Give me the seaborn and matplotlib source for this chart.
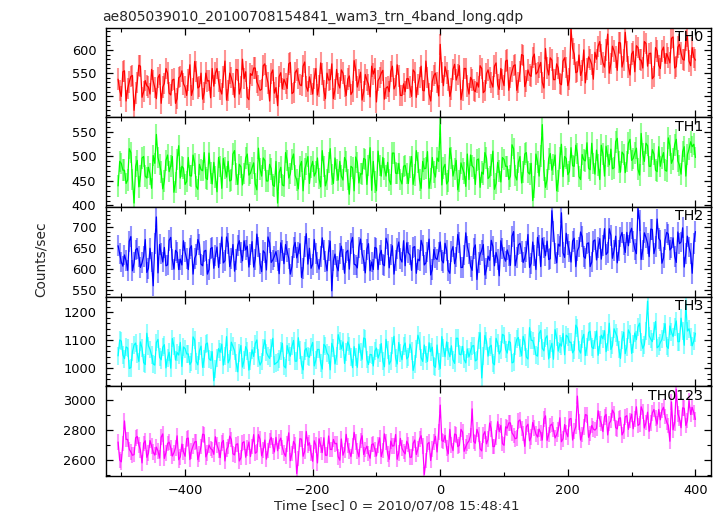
import numpy as np
import matplotlib
matplotlib.use("Agg")
import matplotlib.pyplot as plt
from matplotlib.ticker import MultipleLocator
import seaborn as sns

title = "ae805039010_20100708154841_wam3_trn_4band_long.qdp"
band_names = ["TH0", "TH1", "TH2", "TH3", "TH0123"]
band_colors = ["#ff0000", "#00ff00", "#0000ff", "#00ffff", "#ff00ff"]
# "a" bins start at -505 s, "b" bins sit half way between them; step 5 s each
t_start = -505
t_step = 5
# rough 1-sigma error of each band (counts/sec)
band_err = [23, 22, 25, 32, 52]

th0_a = [
    537, 500, 555, 517, 543, 470, 530, 565, 510, 523,
    505, 533, 495, 547, 520, 560, 507, 535, 485, 540,
    555, 520, 535, 502, 575, 518, 550, 508, 533, 497,
    522, 560, 515, 542, 492, 550, 527, 558, 505, 580,
    553, 493, 545, 561, 523, 515, 570, 529, 549, 507,
    480, 551, 537, 517, 573, 509, 557, 525, 565, 521,
    542, 505, 560, 522, 548, 495, 535, 570, 515, 528,
    557, 522, 537, 504, 577, 520, 552, 510, 535, 499,
    548, 488, 540, 556, 518, 510, 565, 524, 544, 502,
    510, 538, 500, 552, 525, 565, 512, 540, 490, 545,
    530, 612, 523, 550, 500, 558, 535, 566, 513, 560,
    505, 535, 510, 520, 560, 512, 557, 530, 565, 525,
    560, 523, 578, 540, 566, 513, 553, 588, 533, 546,
    583, 548, 563, 530, 603, 546, 578, 536, 561, 525,
    583, 523, 645, 591, 553, 545, 600, 559, 579, 537,
    580, 618, 573, 600, 550, 608, 585, 616, 563, 638,
    563, 591, 553, 605, 578, 618, 565, 593, 543, 598,
    560, 606, 592, 572, 628, 564, 612, 580, 620, 576,
    605, 578,
]
th0_b = [
    513, 553, 490, 531, 545, 507, 567, 498, 534, 520,
    558, 519, 540, 485, 528, 550, 503, 537, 495, 543,
    527, 502, 568, 516, 554, 521, 494, 550, 534, 560,
    550, 532, 505, 576, 513, 540, 498, 557, 520, 538,
    498, 549, 561, 531, 513, 566, 544, 490, 557, 519,
    543, 516, 528, 570, 506, 551, 538, 523, 574, 511,
    525, 539, 503, 572, 512, 550, 536, 495, 558, 518,
    550, 502, 544, 510, 557, 535, 492, 547, 526, 565,
    560, 534, 550, 494, 521, 554, 516, 568, 502, 527,
    538, 520, 557, 498, 540, 513, 576, 505, 532, 550,
    501, 552, 564, 534, 516, 569, 547, 493, 560, 522,
    541, 514, 530, 566, 508, 549, 540, 520, 572, 515,
    536, 576, 513, 554, 568, 530, 590, 521, 557, 543,
    591, 552, 573, 518, 561, 583, 536, 570, 528, 576,
    562, 537, 603, 551, 589, 556, 529, 585, 569, 595,
    608, 590, 563, 634, 571, 598, 556, 615, 578, 596,
    546, 597, 609, 579, 561, 614, 592, 538, 605, 567,
    598, 571, 583, 625, 561, 606, 593, 578, 629, 566,
    584,
]

th1_a = [
    440, 486, 472, 452, 508, 405, 492, 460, 500, 456,
    464, 502, 545, 484, 434, 492, 469, 500, 447, 522,
    480, 443, 498, 460, 486, 433, 473, 508, 453, 466,
    488, 428, 480, 496, 458, 450, 505, 464, 484, 442,
    497, 462, 477, 444, 517, 460, 492, 450, 475, 439,
    405, 478, 440, 492, 465, 505, 452, 480, 430, 485,
    445, 490, 468, 455, 512, 440, 488, 463, 497, 452,
    460, 498, 453, 480, 430, 488, 465, 496, 443, 518,
    490, 430, 482, 498, 460, 452, 507, 466, 486, 444,
    482, 445, 500, 462, 488, 435, 475, 510, 455, 468,
    497, 565, 477, 444, 517, 460, 492, 450, 475, 439,
    453, 481, 443, 495, 468, 508, 455, 483, 433, 488,
    448, 494, 480, 460, 516, 452, 500, 468, 508, 464,
    410, 505, 460, 565, 437, 495, 472, 503, 450, 525,
    500, 463, 518, 480, 506, 453, 493, 528, 473, 486,
    513, 453, 505, 521, 483, 475, 530, 489, 509, 467,
    527, 492, 507, 474, 547, 490, 522, 480, 505, 469,
    480, 508, 470, 522, 495, 535, 482, 510, 460, 515,
    520, 498,
]
th1_b = [
    490, 472, 445, 516, 453, 480, 438, 497, 460, 478,
    435, 486, 498, 468, 450, 503, 481, 427, 494, 456,
    476, 449, 461, 503, 439, 484, 471, 456, 507, 444,
    458, 498, 435, 476, 490, 452, 512, 443, 479, 465,
    505, 466, 487, 432, 475, 497, 450, 484, 442, 490,
    467, 442, 508, 456, 494, 461, 434, 490, 474, 500,
    478, 460, 497, 438, 480, 453, 516, 445, 472, 490,
    452, 490, 423, 477, 499, 446, 464, 494, 482, 431,
    448, 511, 460, 475, 488, 443, 507, 465, 453, 480,
    465, 479, 443, 512, 452, 490, 476, 435, 498, 458,
    490, 442, 484, 450, 497, 475, 432, 487, 466, 505,
    503, 477, 493, 437, 464, 497, 459, 511, 445, 470,
    498, 480, 453, 524, 461, 488, 446, 505, 468, 486,
    438, 489, 501, 471, 453, 506, 484, 430, 497, 459,
    496, 469, 481, 523, 459, 504, 491, 476, 527, 464,
    483, 523, 460, 501, 515, 477, 537, 468, 504, 490,
    535, 496, 517, 462, 505, 527, 480, 514, 472, 520,
    497, 472, 538, 486, 524, 491, 464, 520, 504, 530,
    525,
]

th2_a = [
    656, 617, 634, 597, 678, 615, 650, 604, 631, 592,
    650, 560, 725, 659, 617, 608, 669, 623, 645, 599,
    610, 641, 599, 656, 626, 671, 612, 643, 588, 649,
    602, 653, 637, 615, 677, 606, 659, 624, 668, 620,
    646, 605, 666, 624, 653, 594, 639, 677, 616, 631,
    621, 663, 613, 643, 588, 652, 627, 661, 602, 685,
    650, 612, 638, 600, 675, 618, 645, 548, 636, 596,
    655, 590, 645, 662, 612, 603, 672, 620, 648, 596,
    599, 650, 634, 612, 674, 603, 656, 621, 665, 617,
    608, 639, 597, 654, 624, 669, 610, 641, 586, 647,
    623, 665, 615, 645, 590, 654, 629, 663, 604, 687,
    638, 597, 658, 616, 645, 586, 631, 669, 608, 623,
    668, 629, 646, 609, 690, 627, 662, 616, 643, 604,
    665, 599, 656, 674, 632, 623, 740, 638, 660, 735,
    628, 659, 617, 674, 644, 689, 630, 661, 606, 667,
    622, 673, 657, 635, 697, 626, 679, 644, 688, 640,
    656, 698, 648, 745, 623, 687, 662, 696, 637, 720,
    668, 627, 688, 646, 675, 616, 661, 699, 638, 653,
    590, 690,
]
th2_b = [
    637, 607, 620, 667, 596, 646, 631, 615, 671, 602,
    617, 661, 591, 637, 652, 610, 676, 600, 640, 624,
    668, 625, 649, 588, 635, 660, 608, 645, 599, 652,
    632, 604, 677, 620, 661, 625, 595, 657, 639, 668,
    655, 635, 605, 684, 614, 644, 598, 663, 622, 642,
    589, 645, 659, 626, 606, 664, 640, 580, 654, 612,
    602, 671, 615, 631, 646, 596, 667, 620, 607, 637,
    624, 640, 600, 676, 610, 652, 637, 591, 661, 617,
    652, 599, 645, 608, 660, 635, 588, 649, 625, 668,
    663, 634, 652, 590, 620, 656, 615, 672, 599, 627,
    641, 621, 662, 597, 643, 613, 683, 604, 634, 654,
    607, 649, 575, 635, 659, 601, 621, 654, 640, 584,
    649, 619, 632, 679, 608, 658, 643, 627, 683, 614,
    632, 676, 606, 652, 667, 625, 691, 615, 655, 639,
    686, 643, 667, 606, 653, 678, 626, 663, 617, 670,
    652, 624, 697, 640, 681, 645, 615, 677, 659, 688,
    687, 667, 637, 716, 646, 676, 630, 695, 654, 674,
    614, 670, 684, 651, 631, 689, 665, 605, 679, 637,
    662,
]

th3_a = [
    1044, 1097, 1034, 1072, 1002, 1083, 1051, 1094, 1020, 1125,
    1067, 1015, 1092, 1039, 1075, 1001, 1057, 1106, 1029, 1047,
    1006, 1070, 1051, 1023, 1101, 1012, 1079, 1034, 1090, 1028,
    955, 1036, 1057, 1011, 1113, 1033, 1078, 1019, 1054, 1004,
    1077, 993, 1066, 1088, 1035, 1024, 1101, 1044, 1072, 1013,
    1022, 1061, 1008, 1081, 1043, 1099, 1025, 1064, 994, 1071,
    1039, 1092, 1029, 1067, 997, 1078, 1046, 1089, 1015, 1120,
    1069, 1017, 1094, 1041, 1077, 1003, 1059, 1108, 1031, 1049,
    1008, 1072, 1053, 1025, 1103, 1014, 1081, 1036, 1092, 1030,
    1090, 1041, 1062, 1016, 1118, 1038, 1083, 1024, 1059, 1009,
    1083, 999, 1072, 1094, 1041, 1030, 1107, 1050, 1078, 1019,
    1040, 1079, 1026, 1099, 965, 1117, 1043, 1082, 1012, 1089,
    1064, 1117, 1054, 1092, 1022, 1103, 1071, 1114, 1040, 1145,
    1099, 1047, 1124, 1071, 1107, 1033, 1089, 1138, 1061, 1079,
    1048, 1112, 1093, 1065, 1143, 1054, 1121, 1076, 1132, 1070,
    1133, 1084, 1105, 1059, 1161, 1081, 1126, 1067, 1102, 1052,
    1137, 1053, 1126, 1148, 1095, 1084, 1240, 1104, 1132, 1073,
    1092, 1131, 1078, 1151, 1113, 1169, 1095, 1134, 1230, 1141,
    1080, 1125,
]
th3_b = [
    1101, 1047, 1076, 999, 1059, 1090, 1024, 1072, 1013, 1080,
    1046, 1011, 1103, 1030, 1084, 1037, 1000, 1078, 1056, 1092,
    1076, 1051, 1013, 1112, 1024, 1062, 1003, 1086, 1034, 1059,
    998, 1070, 1086, 1044, 1019, 1093, 1063, 987, 1081, 1028,
    1063, 1025, 1042, 1101, 1011, 1074, 1056, 1035, 1107, 1018,
    1033, 1089, 1001, 1058, 1078, 1025, 1109, 1012, 1063, 1043,
    1075, 1008, 1067, 1019, 1085, 1054, 994, 1071, 1042, 1096,
    1094, 1058, 1080, 1002, 1039, 1086, 1032, 1105, 1013, 1048,
    1061, 1036, 1088, 1005, 1064, 1026, 1114, 1015, 1053, 1078,
    1033, 1086, 992, 1068, 1098, 1024, 1049, 1091, 1075, 1003,
    1024, 1113, 1041, 1062, 1080, 1017, 1107, 1048, 1031, 1069,
    1061, 1081, 1030, 1127, 1043, 1096, 1076, 1019, 1107, 1051,
    1121, 1067, 1096, 1019, 1079, 1110, 1044, 1092, 1033, 1100,
    1078, 1043, 1135, 1062, 1116, 1069, 1032, 1110, 1088, 1124,
    1118, 1093, 1055, 1154, 1066, 1104, 1045, 1128, 1076, 1101,
    1046, 1118, 1134, 1092, 1067, 1141, 1111, 1035, 1129, 1076,
    1123, 1085, 1102, 1161, 1071, 1134, 1116, 1095, 1167, 1078,
    1103, 1159, 1071, 1128, 1148, 1095, 1179, 1082, 1133, 1113,
    1098,
]

th0123_a = [
    2720, 2588, 2860, 2737, 2654, 2636, 2757, 2667, 2711, 2618,
    2730, 2653, 2686, 2613, 2774, 2649, 2719, 2627, 2682, 2602,
    2706, 2625, 2746, 2662, 2720, 2603, 2691, 2768, 2647, 2676,
    2638, 2700, 2616, 2730, 2671, 2759, 2642, 2704, 2594, 2715,
    2619, 2720, 2689, 2645, 2769, 2628, 2733, 2663, 2751, 2654,
    2662, 2746, 2647, 2706, 2596, 2724, 2510, 2742, 2625, 2790,
    2715, 2592, 2698, 2742, 2650, 2632, 2760, 2670, 2708, 2622,
    2740, 2663, 2696, 2623, 2784, 2659, 2729, 2637, 2692, 2612,
    2708, 2627, 2748, 2664, 2722, 2605, 2693, 2770, 2649, 2678,
    2641, 2703, 2619, 2733, 2674, 2762, 2505, 2707, 2597, 2718,
    2654, 2965, 2724, 2680, 2804, 2663, 2768, 2698, 2786, 2689,
    2727, 2940, 2712, 2771, 2661, 2789, 2738, 2807, 2690, 2855,
    2830, 2698, 2812, 2847, 2764, 2746, 2867, 2777, 2821, 2728,
    2850, 2773, 2806, 2733, 2894, 2769, 2839, 2747, 2802, 2722,
    2836, 2755, 2876, 2792, 3025, 2733, 2821, 2898, 2777, 2806,
    2811, 2873, 2789, 2903, 2844, 2932, 2815, 2877, 2767, 2888,
    2804, 2905, 2874, 2830, 2954, 2813, 2918, 2848, 2936, 2839,
    2867, 2951, 2852, 2725, 2801, 3070, 2878, 2947, 2830, 2995,
    2950, 2870,
]
th0123_b = [
    2599, 2711, 2737, 2671, 2632, 2748, 2700, 2581, 2728, 2645,
    2693, 2633, 2660, 2752, 2611, 2710, 2682, 2649, 2761, 2622,
    2654, 2742, 2603, 2693, 2724, 2640, 2772, 2621, 2700, 2669,
    2755, 2669, 2715, 2594, 2689, 2737, 2634, 2708, 2616, 2722,
    2678, 2623, 2769, 2654, 2738, 2665, 2606, 2729, 2694, 2751,
    2724, 2684, 2625, 2781, 2643, 2702, 2610, 2739, 2658, 2698,
    2645, 2728, 2581, 2700, 2748, 2632, 2671, 2737, 2711, 2599,
    2632, 2771, 2659, 2692, 2720, 2621, 2762, 2670, 2643, 2703,
    2671, 2702, 2623, 2774, 2642, 2726, 2695, 2605, 2744, 2656,
    2725, 2619, 2711, 2637, 2740, 2692, 2597, 2718, 2672, 2758,
    2786, 2729, 2764, 2641, 2700, 2773, 2689, 2804, 2658, 2713,
    2763, 2723, 2804, 2675, 2767, 2708, 2846, 2690, 2749, 2789,
    2709, 2821, 2847, 2781, 2742, 2858, 2810, 2691, 2838, 2755,
    2813, 2753, 2780, 2872, 2731, 2830, 2802, 2769, 2881, 2742,
    2784, 2872, 2733, 2823, 2854, 2770, 2902, 2751, 2830, 2799,
    2928, 2842, 2888, 2767, 2862, 2910, 2807, 2881, 2789, 2895,
    2863, 2808, 2954, 2839, 2923, 2850, 2791, 2914, 2879, 2936,
    2929, 2889, 2830, 2986, 2848, 2907, 2815, 2944, 2863, 2903,
    2915,
]

series = [(th0_a, th0_b), (th1_a, th1_b), (th2_a, th2_b),
          (th3_a, th3_b), (th0123_a, th0123_b)]

# axis setup per panel
ylims = [(455, 648), (397, 580), (534, 749), (935, 1256), (2494, 3090)]
y_major = [50, 50, 50, 100, 200]
y_minor = [10, 10, 10, 20, 100]

sns.set_theme(style="ticks")
plt.rcParams["font.family"] = ["DejaVu Sans"]
plt.rcParams["axes.edgecolor"] = "black"
plt.rcParams["axes.linewidth"] = 1.0

fig, axes = plt.subplots(5, 1, figsize=(7.23, 5.16), dpi=100, sharex=True)
fig.subplots_adjust(left=0.1466, right=0.983, top=0.9465, bottom=0.0775, hspace=0)

for i, ax in enumerate(axes):
    a, b = series[i]
    ta = t_start + t_step * np.arange(len(a))
    tb = t_start + t_step / 2 + t_step * np.arange(len(b))
    t = np.concatenate([ta, tb])
    vals = np.concatenate([a, b]).astype(float)
    order = np.argsort(t)
    t, vals = t[order], vals[order]
    err = band_err[i]
    ax.vlines(t, vals - err, vals + err, color=band_colors[i], alpha=0.42, lw=1.5)
    sns.lineplot(x=t, y=vals, ax=ax, color=band_colors[i], lw=0.9,
                 estimator=None, sort=False)
    ax.set_ylim(*ylims[i])
    ax.set_xlim(-524, 424)
    ax.yaxis.set_major_locator(MultipleLocator(y_major[i]))
    ax.yaxis.set_minor_locator(MultipleLocator(y_minor[i]))
    ax.xaxis.set_major_locator(MultipleLocator(200))
    ax.xaxis.set_minor_locator(MultipleLocator(100))
    ax.tick_params(which="both", direction="in", top=True, right=True,
                   colors="black", labelsize=9.3)
    ax.tick_params(which="major", length=5, width=0.9)
    ax.tick_params(which="minor", length=3, width=0.8)
    ax.tick_params(axis="y", pad=7)
    ax.tick_params(axis="x", pad=6)
    ax.set_xlabel("")
    ax.set_ylabel("")
    ax.text(0.988, 0.975, band_names[i], transform=ax.transAxes,
            ha="right", va="top", fontsize=10.2, color="black")
    for s in ax.spines.values():
        s.set_visible(True)

fig.text(0.1407, 0.96, title, ha="left", va="baseline", fontsize=10)
fig.text(0.5487, 0.0126, "Time [sec] 0 = 2010/07/08 15:48:41",
         ha="center", va="baseline", fontsize=9.7)
fig.text(0.057, 0.497, "Counts/sec", rotation=90, ha="center", va="center",
         fontsize=9.9)

fig.savefig("out.png", dpi=100)
